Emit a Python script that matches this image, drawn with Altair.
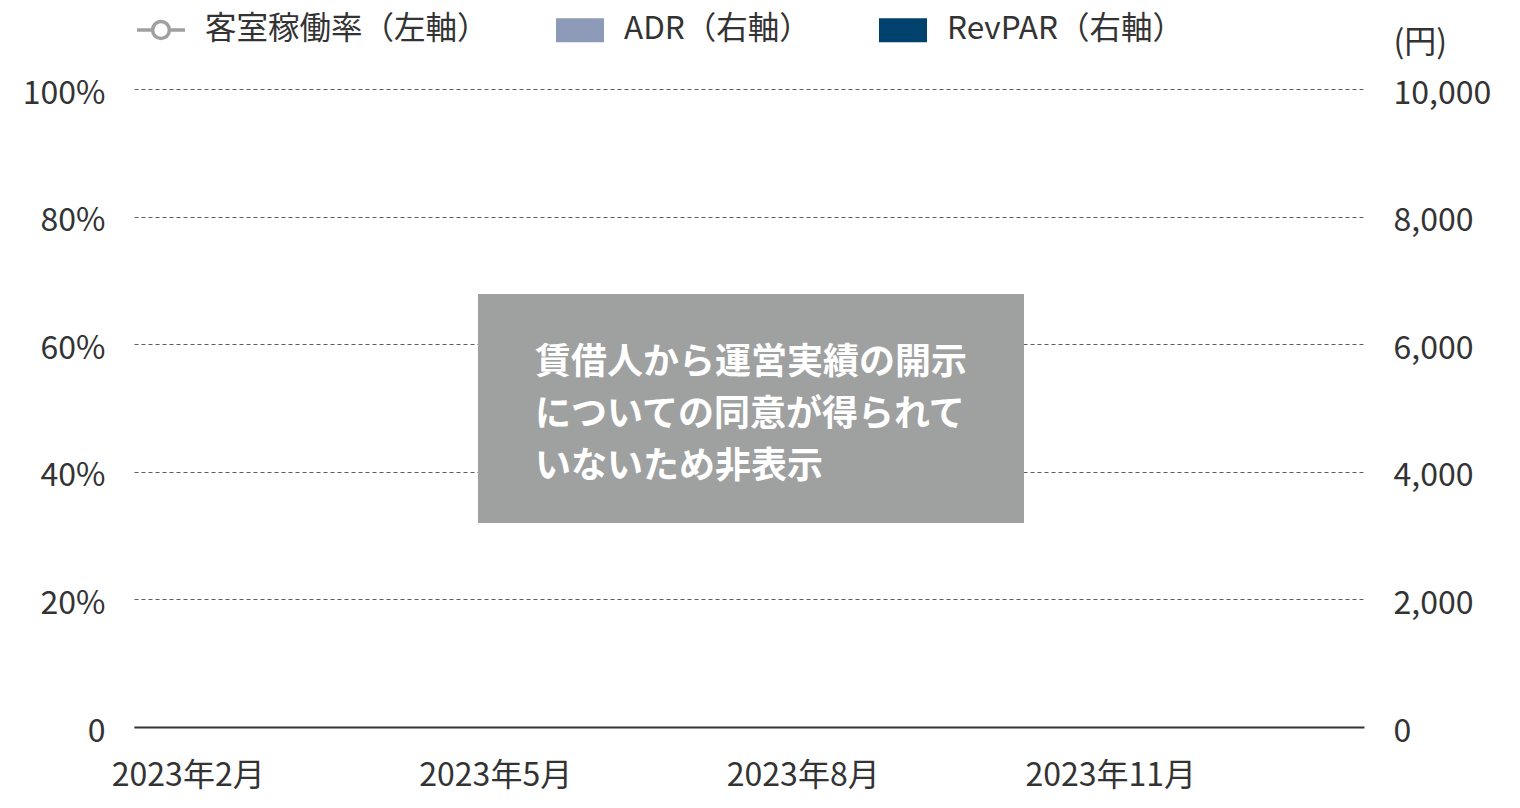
import altair as alt
import pandas as pd

# ---- data ----
months = ["2023年2月", "2023年3月", "2023年4月", "2023年5月", "2023年6月", "2023年7月",
          "2023年8月", "2023年9月", "2023年10月", "2023年11月", "2023年12月", "2024年1月"]
month_ticks = ["2023年2月", "2023年5月", "2023年8月", "2023年11月"]
occupancy = [None, None, None, None, None, None, None, None, None, None, None, None]
adr = [None, None, None, None, None, None, None, None, None, None, None, None]
revpar = [None, None, None, None, None, None, None, None, None, None, None, None]
line_series = ["客室稼働率（左軸）"]
bar_series = ["ADR（右軸）", "RevPAR（右軸）"]
line_colors = ["#a0a0a0"]
bar_colors = ["#8d9bb8", "#00426d"]
pct_ticks = [0, 0.2, 0.4, 0.6, 0.8, 1.0]
yen_ticks = [0, 2000, 4000, 6000, 8000, 10000]
note_lines = ["賃借人から運営実績の開示", "についての同意が得られて", "いないため非表示"]
yen_unit = "(円)"

FONT = "Noto Sans CJK JP"
TXT = "#333333"
AX_FS = 32
LG_FS = 31.5
W, H = 1230, 638

line_df = pd.DataFrame({"month": months, "series": line_series[0], "value": occupancy})
bar_df = pd.DataFrame({
    "month": months * 2,
    "series": [bar_series[0]] * len(months) + [bar_series[1]] * len(months),
    "value": adr + revpar,
})
note_df = pd.DataFrame({"note": ["\n".join(note_lines)]})

x_enc = alt.X("month:N", sort=months,
              scale=alt.Scale(domain=months, paddingInner=0.2, paddingOuter=0.1),
              axis=alt.Axis(values=month_ticks, title=None, labelAngle=0,
                            domain=True, domainColor=TXT, domainWidth=2,
                            ticks=False, tickSize=0, labelPadding=33, grid=False,
                            labelOffset=3,
                            labelFont=FONT, labelFontSize=AX_FS, labelColor=TXT))

bars = alt.Chart(bar_df).mark_bar().encode(
    x=x_enc,
    xOffset=alt.XOffset("series:N", sort=bar_series),
    y=alt.Y("value:Q",
            scale=alt.Scale(domain=[0, 10000], nice=False),
            axis=alt.Axis(orient="right", values=yen_ticks,
                          labelExpr="format(datum.value, ',')", grid=False,
                          domain=False, ticks=False, tickSize=0, labelPadding=29,
                          labelOffset=4,
                          labelFont=FONT, labelFontSize=AX_FS, labelColor=TXT,
                          title=yen_unit, titleAngle=0, titleAlign="left",
                          titleBaseline="middle", titleX=29, titleY=-47,
                          titleFont=FONT, titleFontSize=AX_FS, titleFontWeight="normal",
                          titleColor=TXT)),
    fill=alt.Fill("series:N",
                  scale=alt.Scale(domain=bar_series, range=bar_colors),
                  legend=alt.Legend(title=None, orient="none", direction="horizontal",
                                    legendX=422, legendY=-83,
                                    symbolType="M-1,-0.5L1,-0.5L1,0.5L-1,0.5Z",
                                    symbolSize=2304, symbolStrokeWidth=0,
                                    labelOffset=20, columnPadding=68,
                                    labelFont=FONT, labelFontSize=LG_FS, labelColor=TXT,
                                    labelLimit=400)),
)

line = alt.Chart(line_df).mark_line(
    point=alt.OverlayMarkDef(filled=False, fill="white", size=120, strokeWidth=2.5),
    strokeWidth=2.5,
).encode(
    x=x_enc,
    y=alt.Y("value:Q",
            scale=alt.Scale(domain=[0, 1], nice=False),
            axis=alt.Axis(orient="left", values=pct_ticks,
                          labelExpr="datum.value == 0 ? '0' : format(datum.value, '.0%')",
                          grid=True, gridDash=[4, 3], gridColor="#5e5e5e", gridWidth=1,
                          domain=False, ticks=False, tickSize=0, labelPadding=29,
                          labelOffset=4,
                          labelFont=FONT, labelFontSize=AX_FS, labelColor=TXT,
                          title=None)),
    stroke=alt.Stroke("series:N",
                      scale=alt.Scale(domain=line_series, range=line_colors),
                      legend=alt.Legend(title=None, orient="none", legendX=1, legendY=-85,
                                        symbolType="M-1,0L-0.35,0M0.35,0L1,0M-0.35,0A0.35,0.35,0,1,1,0.35,0A0.35,0.35,0,1,1,-0.35,0",
                                        symbolSize=2304, symbolStrokeWidth=3.5,
                                        symbolFillColor="white",
                                        labelOffset=18,
                                        labelFont=FONT, labelFontSize=LG_FS, labelColor=TXT,
                                        labelLimit=400)),
)

box = alt.Chart(note_df).mark_rect(color="#9fa0a0").encode(
    x=alt.value(W / 2 - 271), x2=alt.value(W / 2 + 275),
    y=alt.value(H / 2 - 114), y2=alt.value(H / 2 + 115),
)

note = alt.Chart(note_df).mark_text(
    align="left", baseline="middle", lineBreak="\n", lineHeight=52,
    font=FONT, fontSize=36, fontWeight="bold", color="white",
).encode(
    x=alt.value(W / 2 - 214),
    y=alt.value(H / 2 - 45),
    text="note:N",
)

chart = alt.layer(line, bars, box, note).resolve_scale(
    y="independent"
).properties(
    width=W, height=H,
    background="white",
    autosize=alt.AutoSizeParams(type="none"),
    padding={"left": 126, "top": 81, "right": 140, "bottom": 70},
).configure_view(
    stroke=None
)

chart.save("out.html", embed_options={"renderer": "svg", "actions": False})
